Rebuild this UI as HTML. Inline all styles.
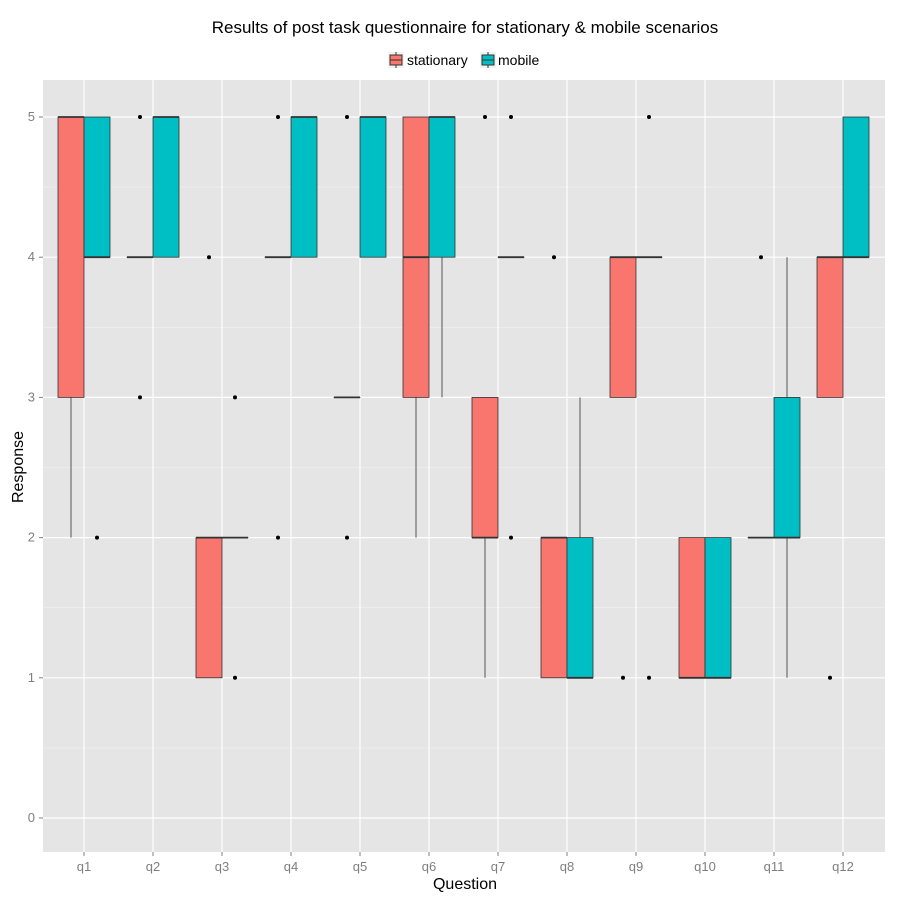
<!DOCTYPE html>
<html><head><meta charset="utf-8"><style>
body{margin:0;background:#fff;font-family:"Liberation Sans",sans-serif}
</style></head><body>
<svg id="c" width="900" height="900" xmlns="http://www.w3.org/2000/svg">
<text x="465" y="33" text-anchor="middle" font-size="17">Results of post task questionnaire for stationary &amp; mobile scenarios</text>
<g>
<rect x="388" y="52" width="16" height="16" fill="#f2f2f2"/>
<line x1="396" y1="52" x2="396" y2="68" stroke="#333"/>
<rect x="390" y="55" width="12" height="10" fill="#F8766D" stroke="#333"/><line x1="390" y1="60" x2="402" y2="60" stroke="#333"/>
<text x="407" y="65" font-size="14">stationary</text>
<rect x="480" y="52" width="16" height="16" fill="#f2f2f2"/>
<line x1="488" y1="52" x2="488" y2="68" stroke="#333"/>
<rect x="482" y="55" width="12" height="10" fill="#00BFC4" stroke="#333"/><line x1="482" y1="60" x2="494" y2="60" stroke="#333"/>
<text x="498" y="65" font-size="14">mobile</text>
</g>
<rect x="43" y="80" width="842" height="772" fill="#E5E5E5"/>
<g id="grid"></g><g id="marks"></g><g id="axes"></g>
<text x="465" y="889" text-anchor="middle" font-size="16">Question</text>
<text x="23" y="467" text-anchor="middle" font-size="16" transform="rotate(-90 23 467)">Response</text>
</svg>
<script>
const categories=["q1","q2","q3","q4","q5","q6","q7","q8","q9","q10","q11","q12"];
const yTicks=[0,1,2,3,4,5];
// [lowerWhisker, q1, median, q3, upperWhisker]
const stationary=[[2,3,5,5,5],[4,4,4,4,4],[1,1,2,2,2],[4,4,4,4,4],[3,3,3,3,3],[2,3,4,5,5],[1,2,2,3,3],[1,1,2,2,2],[3,3,4,4,4],[1,1,1,2,2],[2,2,2,2,2],[3,3,4,4,4]];
const mobile=[[4,4,4,5,5],[4,4,5,5,5],[2,2,2,2,2],[4,4,5,5,5],[4,4,5,5,5],[3,4,5,5,5],[4,4,4,4,4],[1,1,1,2,3],[4,4,4,4,4],[1,1,1,2,2],[1,2,2,3,4],[4,4,4,5,5]];
const stationaryOutliers=[[],[5,3],[4],[5,2],[5,2],[],[5],[4],[1],[],[4],[1]];
const mobileOutliers=[[2],[],[3,1],[],[],[],[5,2],[],[5,1],[],[],[]];
const ns="http://www.w3.org/2000/svg";
const x=i=>84+i*69, y=v=>818-v*140.2;
function mk(t,a,p){const e=document.createElementNS(ns,t);for(const k in a)e.setAttribute(k,a[k]);p.appendChild(e);return e;}
const G=document.getElementById('grid'),M=document.getElementById('marks'),A=document.getElementById('axes');
for(let v=-0.5;v<=5.5;v+=1){if(y(v)>80&&y(v)<852){const l=mk('line',{x1:43,x2:885,y1:y(v),y2:y(v),stroke:'#F2F2F2','stroke-width':0.6},G);}}
yTicks.forEach(v=>{const l=mk('line',{x1:43,x2:885,y1:y(v),y2:y(v),stroke:'#fff','stroke-width':1.2},G);
const t=mk('text',{x:35,y:y(v)+4,'text-anchor':'end','font-size':13,fill:'#7F7F7F'},A);t.textContent=v;
mk('line',{x1:39,x2:43,y1:y(v),y2:y(v),stroke:'#7F7F7F'},A);});
categories.forEach((c,i)=>{const l=mk('line',{x1:x(i),x2:x(i),y1:80,y2:852,stroke:'#fff','stroke-width':1.2},G);
mk('line',{x1:x(i),x2:x(i),y1:852,y2:856,stroke:'#7F7F7F'},A);
const t=mk('text',{x:x(i),y:871,'text-anchor':'middle','font-size':13,fill:'#7F7F7F'},A);t.textContent=c;});
function box(i,d,off,col,name,outs){const cx=x(i)+off,g=mk('g',{},M);
mk('line',{x1:cx,x2:cx,y1:y(d[0]),y2:y(d[1]),stroke:'#555','stroke-width':1},g);
mk('line',{x1:cx,x2:cx,y1:y(d[3]),y2:y(d[4]),stroke:'#555','stroke-width':1},g);
mk('rect',{x:cx-13,y:y(d[3]),width:26,height:Math.max(0.01,y(d[1])-y(d[3])),fill:col,stroke:'#333','stroke-width':0.8},g);
mk('line',{x1:cx-13,x2:cx+13,y1:y(d[2]),y2:y(d[2]),stroke:'#333','stroke-width':1.8},g);
outs.forEach(o=>{const p=mk('circle',{cx:cx,cy:y(o),r:2,fill:'#000'},g);});}
categories.forEach((c,i)=>{box(i,stationary[i],-13,'#F8766D','box-stationary-'+c,stationaryOutliers[i]);box(i,mobile[i],13,'#00BFC4','box-mobile-'+c,mobileOutliers[i]);});
</script>
</body></html>
